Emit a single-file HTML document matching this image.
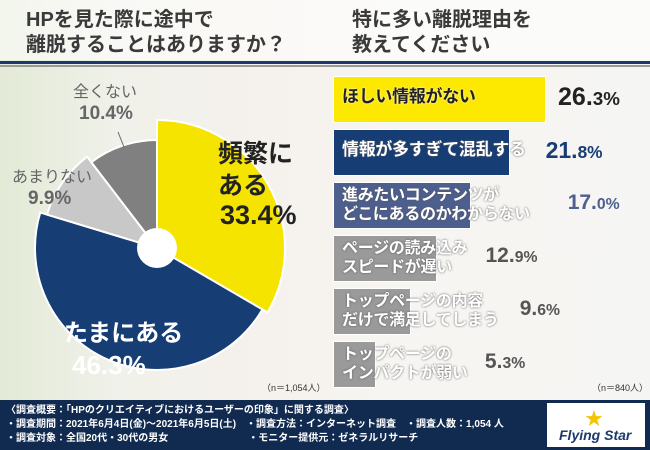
<!DOCTYPE html>
<html><head><meta charset="utf-8"><style>
body{margin:0}
#root{position:relative;width:650px;height:450px;overflow:hidden;font-family:"Liberation Sans","Noto Sans CJK JP",sans-serif;background:linear-gradient(90deg,#e3ead6 0%,#f0f1ea 18%,#f5f1ec 40%,#f7f5f2 60%,#f5f5f3 100%)}
.t{position:absolute;font-weight:bold;color:#333}
.l1{line-height:1}
</style></head><body>
<div id="root">
<div style="position:absolute;left:0;top:0;width:650px;height:60px;background:rgba(255,255,255,0.55)"></div>
<div class="t" style="left:26px;top:8px;font-size:20px;line-height:25px;color:#3a3a3a">HPを見た際に途中で<br>離脱することはありますか？</div>
<div class="t" style="left:352px;top:8px;font-size:20px;line-height:25px;color:#3a3a3a">特に多い離脱理由を<br>教えてください</div>
<div style="position:absolute;left:0;top:61px;width:650px;height:3px;background:#1b3a6b"></div>
<div style="position:absolute;left:0;top:65px;width:650px;height:2px;background:#999"></div>
<svg id="pie" width="330" height="340" style="position:absolute;left:0;top:60px"></svg>
<div class="t l1" style="left:73px;top:85px;font-size:16px;color:#666;font-weight:normal">全くない</div>
<div class="t l1" style="left:79px;top:104px;font-size:19px;color:#666">10.4%</div>
<div class="t l1" style="left:12px;top:170px;font-size:16px;color:#666;font-weight:normal">あまりない</div>
<div class="t l1" style="left:28px;top:189px;font-size:19px;color:#666">9.9%</div>
<div class="t" style="left:218px;top:138px;font-size:25px;line-height:32px;color:#222">頻繁に<br>ある</div>
<div class="t" style="left:220px;top:200px;font-size:27px;color:#222">33.4%</div>
<div class="t l1" style="left:64px;top:322px;font-size:24px;color:#fff">たまにある</div>
<div class="t l1" style="left:72px;top:352px;font-size:26px;color:#fff">46.3%</div>
<div class="t" style="left:262px;top:381px;font-size:9px;color:#333;font-weight:normal">（n＝1,054人）</div>
<div class="t" style="left:592px;top:381px;font-size:9px;color:#333;font-weight:normal">（n＝840人）</div>
<div id="bars"></div>
<div style="position:absolute;left:0;top:400px;width:650px;height:50px;background:#102a50"></div>
<div style="position:absolute;left:6px;top:404px;font-size:10px;line-height:14px;color:#fff;font-weight:bold;white-space:pre">〈調査概要：「HPのクリエイティブにおけるユーザーの印象」に関する調査〉
・調査期間：2021年6月4日(金)〜2021年6月5日(土)　・調査方法：インターネット調査　・調査人数：1,054 人
・調査対象：全国20代・30代の男女　　　　　　　　・モニター提供元：ゼネラルリサーチ</div>
<div style="position:absolute;left:547px;top:403px;width:98px;height:44px;background:#fff">
<div style="position:absolute;left:38px;top:2px;font-size:18px;color:#f2c500">★</div>
<div style="position:absolute;left:12px;top:24px;font-size:14px;font-style:italic;font-weight:bold;color:#1b3a6b">Flying Star</div></div>
</div>
<script>
const pieLabels=["頻繁にある","たまにある","あまりない","全くない"];
const pieValues=[33.4,46.3,9.9,10.4];
const pieColors=["#f5e400","#173d75","#c8c8c8","#808080"];
const pieRadii=[128,122,115,108];
const cx=157,cy=188,NS="http://www.w3.org/2000/svg";
const svg=document.getElementById('pie');
const tot=pieValues.reduce((a,b)=>a+b,0);
let a0=0;
pieValues.forEach((v,i)=>{
 const a1=a0+v/tot*2*Math.PI,r=pieRadii[i];
 const p=(a,rr)=>[cx+rr*Math.sin(a),cy-rr*Math.cos(a)];
 const [x0,y0]=p(a0,r),[x1,y1]=p(a1,r);
 const path=document.createElementNS(NS,'path');
 path.setAttribute('d',`M${cx},${cy}L${x0},${y0}A${r},${r} 0 ${a1-a0>Math.PI?1:0} 1 ${x1},${y1}Z`);
 path.setAttribute('fill',pieColors[i]);path.setAttribute('stroke','#fff');path.setAttribute('stroke-width','2');
 
 
 svg.appendChild(path);a0=a1;
});
const hole=document.createElementNS(NS,'circle');
hole.setAttribute('cx',cx);hole.setAttribute('cy',cy);hole.setAttribute('r',20);hole.setAttribute('fill','#fff');


svg.appendChild(hole);
const ln=document.createElementNS(NS,'line');
ln.setAttribute('x1',118);ln.setAttribute('y1',72);ln.setAttribute('x2',124);ln.setAttribute('y2',87);ln.setAttribute('stroke','#666');


svg.appendChild(ln);

const barLabels=["ほしい情報がない","情報が多すぎて混乱する","進みたいコンテンツが<br>どこにあるのかわからない","ページの読み込み<br>スピードが遅い","トップページの内容<br>だけで満足してしまう","トップページの<br>インパクトが弱い"];
const barValues=[26.3,21.8,17.0,12.9,9.6,5.3];
const barColors=["#fde800","#173d75","#4d5f8e","#9a9a9a","#9a9a9a","#9a9a9a"];
const textColors=["#222","#fff","#fff","#fff","#fff","#fff"];
const valColors=["#222","#173d75","#4d5f8e","#555","#555","#555"];
const valOffsets=[12,36,97,48,109,109];
const valSizes=[25,23,21,21,21,21];
const x0=333,scale=8.1,top0=76,step=53,h=47;
const bars=document.getElementById('bars');
barValues.forEach((v,i)=>{
 const w=v*scale,y=top0+i*step;
 const b=document.createElement('div');
 b.style.cssText=`position:absolute;left:${x0}px;top:${y}px;width:${w}px;height:${h}px;background:${barColors[i]};border:1px solid #fff;box-sizing:border-box`;
 
 
 bars.appendChild(b);
 const t=document.createElement('div');
 t.className='t';
 const two=barLabels[i].includes('<br>');
 t.style.cssText=`left:${x0+9}px;top:${y+(two?4:11)}px;font-size:${two?16:17}px;line-height:19px;letter-spacing:-0.3px;color:${textColors[i]};white-space:nowrap;text-shadow:0 0 2px ${i==0?'#fff':'#555'}`;
 t.innerHTML=barLabels[i];
 
 
 bars.appendChild(t);
 const vl=document.createElement('div');
 vl.className='t';
 const s=v.toFixed(1).split('.');
 vl.style.cssText=`left:${x0+w+valOffsets[i]}px;top:${y+23-valSizes[i]*0.65}px;font-size:${valSizes[i]}px;color:${valColors[i]};white-space:nowrap`;
 vl.innerHTML=s[0]+'.<span style="font-size:0.75em">'+s[1]+'%</span>';
 
 
 bars.appendChild(vl);
});
</script>
</body></html>
